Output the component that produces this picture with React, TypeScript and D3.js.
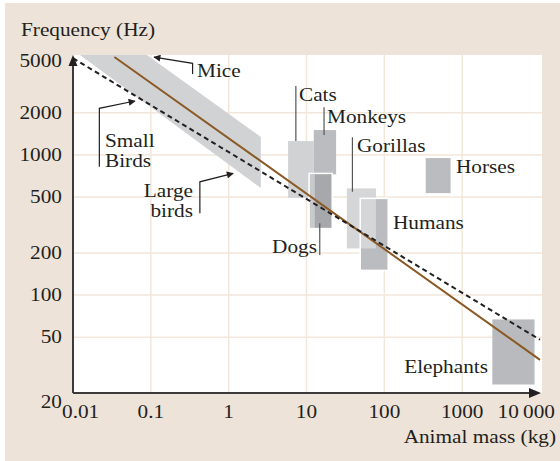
import * as d3 from "d3";

// axis ticks
const xTicks = [0.01, 0.1, 1, 10, 100, 1000, 10000];
const xTickLabels = ["0.01", "0.1", "1", "10", "100", "1000", "10\u2009000"];
const yTicks = [20, 50, 100, 200, 500, 1000, 2000, 5000];
const yTickLabels = ["20", "50", "100", "200", "500", "1000", "2000", "5000"];

// animal boxes (mass in kg, frequency in Hz)
const animals = ["Cats", "Monkeys", "Dogs", "Gorillas", "Humans", "Horses", "Elephants"];
const massLo = [5.8, 12.4, 10.8, 33, 49, 340, 2440];
const massHi = [12.4, 24, 21.4, 78, 112, 710, 8500];
const freqLo = [494, 727, 298, 215, 150, 534, 23];
const freqHi = [1256, 1505, 738, 577, 490, 950, 67];
const dogsCoreMassLo = 12.8;

// fitted lines and bird/mouse band
const brownLine: [number, number][] = [[0.034, 5000], [10000, 34.5]];
const dashedLine: [number, number][] = [[0.01, 4900], [10000, 48]];
const birdBand: [number, number][] = [[0.0123, 5166], [0.0891, 5166], [2.59, 1342], [2.59, 580]];

// leader lines
const miceLeader: [number, number][] = [[0.344, 3784], [0.344, 4508], [0.11, 4990]];
const smallBirdsLeader: [number, number][] = [[0.0218, 822], [0.0218, 2151], [0.0625, 2425]];
const largeBirdsLeader: [number, number][] = [[0.4266, 384], [0.4266, 643], [1.142, 738]];
const boxLeaders: { mass: number; from: number; to: number }[] = [
  { mass: 7.3, from: 3100, to: 1256 },
  { mass: 16.8, from: 2186, to: 1387 },
  { mass: 38.9, from: 1335, to: 546 },
  { mass: 14.8, from: 326, to: 193 },
];

const W = 560;
const H = 461;
const FS = 19;
const SX = 1.12;
const INK = "#231f20";
const FONT = "Liberation Serif";

const fills: Record<string, string> = {
  Cats: "#d1d2d4",
  Monkeys: "#bbbcbf",
  Dogs: "#c8c9cb",
  Gorillas: "#d5d6d8",
  Humans: "#bbbcbf",
  Horses: "#bbbcbf",
  Elephants: "#b9babd",
};

function Label({ x, y, anchor = "start", children }: { x: number; y: number; anchor?: string; children: any }) {
  return (
    <text
      transform={`translate(${x},${y}) scale(${SX},1)`}
      textAnchor={anchor}
      fontSize={FS}
      fontFamily={FONT}
      fill={INK}
    >
      {children}
    </text>
  );
}

export default function App() {
  const x = d3.scaleLog().domain([0.01, 10000]).range([73, 540]);
  const y = d3.scaleLog().domain([20, 5000]).range([393, 57]);

  const plotL = x(0.01);
  const plotR = x(10000) + 2;
  const plotT = y(5000) - 2;
  const plotB = y(20);

  const line = d3
    .line<[number, number]>()
    .x((d) => x(d[0]))
    .y((d) => y(d[1]));

  const box = (i: number) => ({
    x: x(massLo[i]),
    y: y(freqHi[i]),
    w: x(massHi[i]) - x(massLo[i]),
    h: y(freqLo[i]) - y(freqHi[i]),
  });
  const idx = (name: string) => animals.indexOf(name);

  const plainBoxes = ["Cats", "Monkeys", "Horses", "Elephants"].map(idx);
  const dogs = box(idx("Dogs"));
  const humans = box(idx("Humans"));
  const gorillas = box(idx("Gorillas"));

  return (
    <svg width={W} height={H} style={{ position: "absolute", left: 0, top: 0 }}>
      <defs>
        <clipPath id="plot">
          <rect x={plotL} y={plotT} width={plotR - plotL} height={plotB - plotT} />
        </clipPath>
        <marker id="arr" viewBox="0 0 10 10" refX="9" refY="5" markerWidth="8" markerHeight="7" orient="auto" markerUnits="userSpaceOnUse">
          <path d="M0,0 L10,5 L0,10 z" fill={INK} />
        </marker>
      </defs>
      <rect x={5} y={3} width={W - 5} height={H - 3} fill="#ede3d8" />
      <rect x={plotL} y={plotT} width={plotR - plotL} height={plotB - plotT} fill="#fff" />

      {/* grid */}
      {xTicks.slice(1, -1).map((t) => (
        <line key={"gx" + t} x1={x(t)} x2={x(t)} y1={plotT} y2={plotB} stroke="#f2e7da" strokeWidth={1.5} />
      ))}
      {yTicks.slice(1, -1).map((t) => (
        <line key={"gy" + t} x1={plotL} x2={plotR} y1={y(t)} y2={y(t)} stroke="#f2e7da" strokeWidth={1.5} />
      ))}

      <g clipPath="url(#plot)">
        <path d={line(birdBand) + "Z"} fill="#d1d2d4" />

        {plainBoxes.map((i) => {
          const b = box(i);
          return <rect key={animals[i]} x={b.x} y={b.y} width={b.w} height={b.h} fill={fills[animals[i]]} />;
        })}

        {/* dogs: light strip + dark core */}
        <rect x={dogs.x} y={dogs.y} width={dogs.w} height={dogs.h} fill={fills.Dogs} />
        <rect
          x={x(dogsCoreMassLo)}
          y={dogs.y}
          width={dogs.x + dogs.w - x(dogsCoreMassLo)}
          height={dogs.h}
          fill="#a7a8ab"
        />
        <rect x={dogs.x} y={dogs.y} width={dogs.w} height={dogs.h} fill="none" stroke="#fff" strokeWidth={1.5} />

        {/* humans under gorillas, outline on top */}
        <rect x={humans.x} y={humans.y} width={humans.w} height={humans.h} fill={fills.Humans} />
        <rect x={gorillas.x} y={gorillas.y} width={gorillas.w} height={gorillas.h} fill={fills.Gorillas} />
        <rect x={humans.x} y={humans.y} width={humans.w} height={humans.h} fill="none" stroke="#fff" strokeWidth={1.5} />

        <path d={line(brownLine) ?? ""} fill="none" stroke="#8b5a24" strokeWidth={2} />
        <path d={line(dashedLine) ?? ""} fill="none" stroke={INK} strokeWidth={2} strokeDasharray="5,3.5" />
      </g>

      {/* leaders */}
      {boxLeaders.map((l, i) => (
        <line key={"bl" + i} x1={x(l.mass)} x2={x(l.mass)} y1={y(l.from)} y2={y(l.to)} stroke="#555" strokeWidth={1.2} />
      ))}
      {[miceLeader, smallBirdsLeader, largeBirdsLeader].map((p, i) => (
        <path key={"al" + i} d={line(p) ?? ""} fill="none" stroke={INK} strokeWidth={1.2} markerEnd="url(#arr)" />
      ))}

      {/* axes */}
      <line x1={plotL} x2={plotL} y1={plotB} y2={plotT + 8} stroke="#3c3a3a" strokeWidth={2} />
      <line x1={plotL} x2={x(10000) - 8} y1={plotB} y2={plotB} stroke="#3c3a3a" strokeWidth={2} />
      <path d={`M${plotL},${plotT} l-4.5,11 l9,0 z`} fill={INK} />
      <path d={`M${x(10000) + 1},${plotB} l-12,-5 l0,10 z`} fill={INK} />

      {/* tick labels */}
      {yTicks.map((t, i) => (
        <Label key={"yl" + t} x={62} y={y(t) + (t === 5000 ? 10 : t === 20 ? 15 : 6)} anchor="end">
          {yTickLabels[i]}
        </Label>
      ))}
      {xTicks.map((t, i) => (
        <Label
          key={"xl" + t}
          x={t === 0.01 ? 62 : t === 10000 ? 555 : x(t)}
          y={418}
          anchor={t === 0.01 ? "start" : t === 10000 ? "end" : "middle"}
        >
          {xTickLabels[i]}
        </Label>
      ))}

      <Label x={21} y={36}>Frequency (Hz)</Label>
      <Label x={556} y={443} anchor="end">Animal mass (kg)</Label>

      {/* annotations */}
      <Label x={197} y={77}>Mice</Label>
      <Label x={105} y={147}>Small</Label>
      <Label x={105} y={167}>Birds</Label>
      <Label x={193} y={197} anchor="end">Large</Label>
      <Label x={193} y={217} anchor="end">birds</Label>
      <Label x={299} y={101}>Cats</Label>
      <Label x={327} y={123}>Monkeys</Label>
      <Label x={357} y={152}>Gorillas</Label>
      <Label x={456} y={173}>Horses</Label>
      <Label x={317} y={253} anchor="end">Dogs</Label>
      <Label x={393} y={229}>Humans</Label>
      <Label x={488} y={373} anchor="end">Elephants</Label>
    </svg>
  );
}
